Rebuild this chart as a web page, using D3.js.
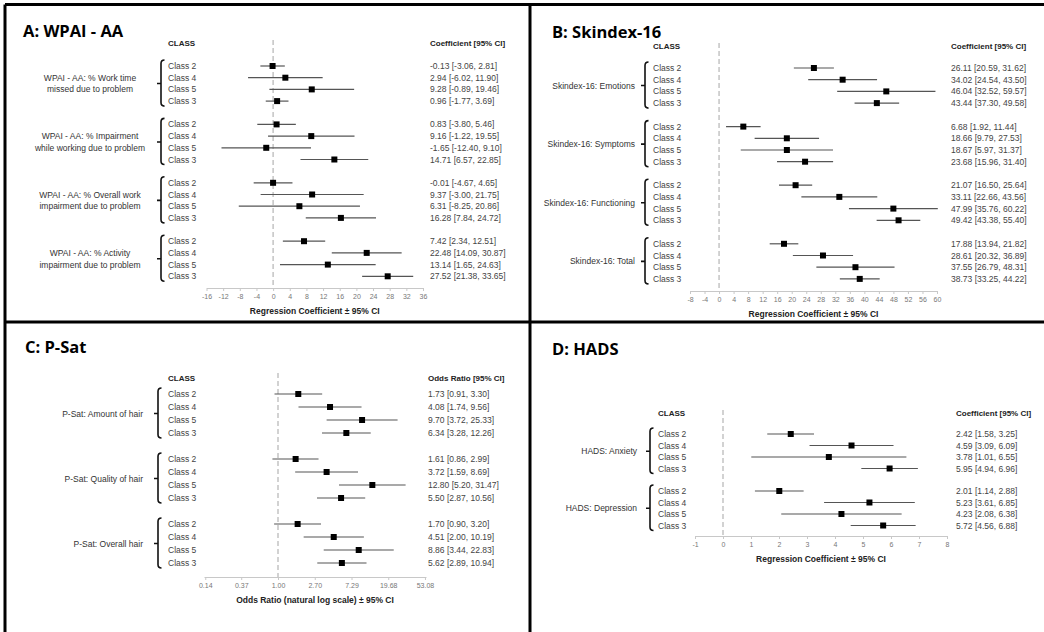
<!DOCTYPE html>
<html>
<head>
<meta charset="utf-8">
<script src="https://cdn.jsdelivr.net/npm/d3@7"></script>
<style>
body { margin: 0; background: #fff; }
text { font-family: "Liberation Sans", Arial, sans-serif; }
</style>
</head>
<body>
<svg id="chart" width="1044" height="632"></svg>
<script>
var classNames = ["Class 2", "Class 4", "Class 5", "Class 3"]

// A: WPAI - AA
var wpaiOutcomes = [["WPAI - AA: % Work time", "missed due to problem"],
    ["WPAI - AA: % Impairment", "while working due to problem"],
    ["WPAI - AA: % Overall work", "impairment due to problem"],
    ["WPAI - AA: % Activity", "impairment due to problem"]]
var wpaiEst = [[-0.13, 2.94, 9.28, 0.96], [0.83, 9.16, -1.65, 14.71],
    [-0.01, 9.37, 6.31, 16.28], [7.42, 22.48, 13.14, 27.52]]
var wpaiLow = [[-3.06, -6.02, -0.89, -1.77], [-3.80, -1.22, -12.40, 6.57],
    [-4.67, -3.00, -8.25, 7.84], [2.34, 14.09, 1.65, 21.38]]
var wpaiHigh = [[2.81, 11.90, 19.46, 3.69], [5.46, 19.55, 9.10, 22.85],
    [4.65, 21.75, 20.86, 24.72], [12.51, 30.87, 24.63, 33.65]]
var wpaiTicks = [-16, -12, -8, -4, 0, 4, 8, 12, 16, 20, 24, 28, 32, 36]

// B: Skindex-16
var skinOutcomes = [["Skindex-16: Emotions"], ["Skindex-16: Symptoms"],
    ["Skindex-16: Functioning"], ["Skindex-16: Total"]]
var skinEst = [[26.11, 34.02, 46.04, 43.44], [6.68, 18.66, 18.67, 23.68],
    [21.07, 33.11, 47.99, 49.42], [17.88, 28.61, 37.55, 38.73]]
var skinLow = [[20.59, 24.54, 32.52, 37.30], [1.92, 9.79, 5.97, 15.96],
    [16.50, 22.66, 35.76, 43.38], [13.94, 20.32, 26.79, 33.25]]
var skinHigh = [[31.62, 43.50, 59.57, 49.58], [11.44, 27.53, 31.37, 31.40],
    [25.64, 43.56, 60.22, 55.40], [21.82, 36.89, 48.31, 44.22]]
var skinTicks = [-8, -4, 0, 4, 8, 12, 16, 20, 24, 28, 32, 36, 40, 44, 48, 52, 56, 60]

// C: P-Sat (odds ratios)
var psatOutcomes = [["P-Sat: Amount of hair"], ["P-Sat: Quality of hair"], ["P-Sat: Overall hair"]]
var psatEst = [[1.73, 4.08, 9.70, 6.34], [1.61, 3.72, 12.80, 5.50], [1.70, 4.51, 8.86, 5.62]]
var psatLow = [[0.91, 1.74, 3.72, 3.28], [0.86, 1.59, 5.20, 2.87], [0.90, 2.00, 3.44, 2.89]]
var psatHigh = [[3.30, 9.56, 25.33, 12.26], [2.99, 8.69, 31.47, 10.56], [3.20, 10.19, 22.83, 10.94]]
var psatTicks = [0.14, 0.37, 1.00, 2.70, 7.29, 19.68, 53.08]

// D: HADS
var hadsOutcomes = [["HADS: Anxiety"], ["HADS: Depression"]]
var hadsEst = [[2.42, 4.59, 3.78, 5.95], [2.01, 5.23, 4.23, 5.72]]
var hadsLow = [[1.58, 3.09, 1.01, 4.94], [1.14, 3.61, 2.08, 4.56]]
var hadsHigh = [[3.25, 6.09, 6.55, 6.96], [2.88, 6.85, 6.38, 6.88]]
var hadsTicks = [-1, 0, 1, 2, 3, 4, 5, 6, 7, 8]

var svg = d3.select('#chart')
svg.append('rect').attr('width', 1044).attr('height', 632).attr('fill', '#fff')

var panels = [
    { title: 'A: WPAI - AA', tx: 23, ty: 37, header: 'Coefficient [95% CI]', headY: 43,
      classX: 168, bracketX: 161, labelX: 90, anchor: 'middle', valueX: 430,
      y0: 66, groupStep: 58.4, rowStep: 11.7, axisY: 288, dashTop: 40,
      x: d3.scaleLinear().domain([-16, 36]).range([206.5, 423]), ref: 0,
      ticks: wpaiTicks, fmt: d => d, axisTitle: 'Regression Coefficient \u00b1 95% CI',
      outcomes: wpaiOutcomes, est: wpaiEst, low: wpaiLow, high: wpaiHigh },
    { title: 'B: Skindex-16', tx: 552, ty: 38, header: 'Coefficient [95% CI]', headY: 46,
      classX: 653, bracketX: 645, labelX: 635, anchor: 'end', valueX: 951,
      y0: 68, groupStep: 58.6, rowStep: 11.7, axisY: 291, dashTop: 43,
      x: d3.scaleLinear().domain([-8, 60]).range([690, 937]), ref: 0,
      ticks: skinTicks, fmt: d => d, axisTitle: 'Regression Coefficient \u00b1 95% CI',
      outcomes: skinOutcomes, est: skinEst, low: skinLow, high: skinHigh },
    { title: 'C: P-Sat', tx: 25, ty: 353, header: 'Odds Ratio [95% CI]', headY: 378,
      classX: 168, bracketX: 158, labelX: 143, anchor: 'end', valueX: 428,
      y0: 394, groupStep: 65, rowStep: 13, axisY: 577, dashTop: 373,
      x: d3.scaleLog().domain([Math.exp(-2), Math.exp(4)]).range([204, 426]), ref: 1,
      ticks: psatTicks, fmt: d3.format('.2f'), axisTitle: 'Odds Ratio (natural log scale) \u00b1 95% CI',
      outcomes: psatOutcomes, est: psatEst, low: psatLow, high: psatHigh },
    { title: 'D: HADS', tx: 552, ty: 355, header: 'Coefficient [95% CI]', headY: 413,
      classX: 658, bracketX: 650, labelX: 637, anchor: 'end', valueX: 956,
      y0: 434, groupStep: 57, rowStep: 11.5, axisY: 536, dashTop: 410,
      x: d3.scaleLinear().domain([-1, 8]).range([695, 947]), ref: 0,
      ticks: hadsTicks, fmt: d => d, axisTitle: 'Regression Coefficient \u00b1 95% CI',
      outcomes: hadsOutcomes, est: hadsEst, low: hadsLow, high: hadsHigh }
]

panels.forEach(drawPanel)

function drawPanel(p) {
    var g = svg.append('g')
    var x = p.x

    g.append('text').attr('x', p.tx).attr('y', p.ty).text(p.title)
        .style('font-family', '"Open Sans", sans-serif').style('font-weight', 700)
        .style('font-size', '16.5px').attr('fill', '#000')

    g.append('text').attr('x', p.classX).attr('y', p.headY).attr('dominant-baseline', 'central')
        .text('CLASS').style('font-weight', 700).style('font-size', '8px').attr('fill', '#222')
    g.append('text').attr('x', p.valueX).attr('y', p.headY).attr('dominant-baseline', 'central')
        .text(p.header).style('font-weight', 700).style('font-size', '8px').attr('fill', '#222')

    // reference line
    g.append('line').attr('x1', x(p.ref)).attr('x2', x(p.ref))
        .attr('y1', p.dashTop).attr('y2', p.axisY)
        .attr('stroke', '#c4c4c4').attr('stroke-width', 1.5).attr('stroke-dasharray', '5,3')

    // axis
    var axis = d3.axisBottom(x).tickValues(p.ticks).tickFormat(p.fmt).tickSize(3).tickSizeOuter(0).tickPadding(3)
    var ax = g.append('g').attr('transform', 'translate(0,' + p.axisY + ')').call(axis)
    ax.select('path.domain').attr('stroke', '#c8c8c8')
    ax.selectAll('.tick line').attr('stroke', '#c8c8c8')
    ax.selectAll('.tick text').attr('fill', '#777').style('font-size', '7px')
        .style('font-family', '"Liberation Sans", Arial, sans-serif')

    g.append('text').attr('x', (x.range()[0] + x.range()[1]) / 2).attr('y', p.axisY + 23)
        .attr('text-anchor', 'middle').attr('dominant-baseline', 'central')
        .text(p.axisTitle).style('font-weight', 700).style('font-size', '8.5px').attr('fill', '#222')

    p.outcomes.forEach(function (lines, gi) {
        var yFirst = p.y0 + gi * p.groupStep
        var rows = classNames.map((c, i) => ({
            cls: c, y: yFirst + i * p.rowStep,
            est: p.est[gi][i], low: p.low[gi][i], high: p.high[gi][i]
        }))
        var yLast = rows[rows.length - 1].y
        var mid = (yFirst + yLast) / 2

        // outcome label
        var lab = g.append('text').attr('text-anchor', p.anchor).attr('fill', '#333')
            .style('font-size', '8.5px')
        lines.forEach(function (t, li) {
            lab.append('tspan').attr('x', p.labelX)
                .attr('y', mid + (li - (lines.length - 1) / 2) * 11.7)
                .attr('dominant-baseline', 'central').text(t)
        })

        // bracket
        var bx = p.bracketX, top = yFirst - 6, bot = yLast + 5
        g.append('path')
            .attr('d', 'M' + (bx + 3.5) + ',' + top + 'Q' + bx + ',' + top + ' ' + bx + ',' + (top + 3.5) +
                'V' + (bot - 3.5) + 'Q' + bx + ',' + bot + ' ' + (bx + 3.5) + ',' + bot +
                'M' + bx + ',' + mid + 'H' + (bx - 4))
            .attr('fill', 'none').attr('stroke', '#111').attr('stroke-width', 1.6)

        var rg = g.selectAll(null).data(rows).enter().append('g')
        rg.append('text').attr('x', p.classX).attr('y', d => d.y).attr('dominant-baseline', 'central')
            .text(d => d.cls).style('font-size', '8.5px').attr('fill', '#444')
        rg.append('line').attr('x1', d => x(d.low)).attr('x2', d => x(d.high))
            .attr('y1', d => d.y).attr('y2', d => d.y)
            .attr('stroke', '#555').attr('stroke-width', 1.2)
        rg.append('rect').attr('x', d => x(d.est) - 3).attr('y', d => d.y - 3)
            .attr('width', 6).attr('height', 6).attr('fill', '#000')
        rg.append('text').attr('x', p.valueX).attr('y', d => d.y).attr('dominant-baseline', 'central')
            .text(d => d.est.toFixed(2) + ' [' + d.low.toFixed(2) + ', ' + d.high.toFixed(2) + ']')
            .style('font-size', '8.5px').attr('fill', '#444')
    })
}

// frame lines
var frame = [[5, 4.5, 1044, 4.5], [5, 4.5, 5, 632], [530, 4.5, 530, 632], [5, 322, 1044, 322]]
svg.selectAll('line.frame').data(frame).enter().append('line').attr('class', 'frame')
    .attr('x1', d => d[0]).attr('y1', d => d[1]).attr('x2', d => d[2]).attr('y2', d => d[3])
    .attr('stroke', '#000').attr('stroke-width', 3)
</script>
</body>
</html>
